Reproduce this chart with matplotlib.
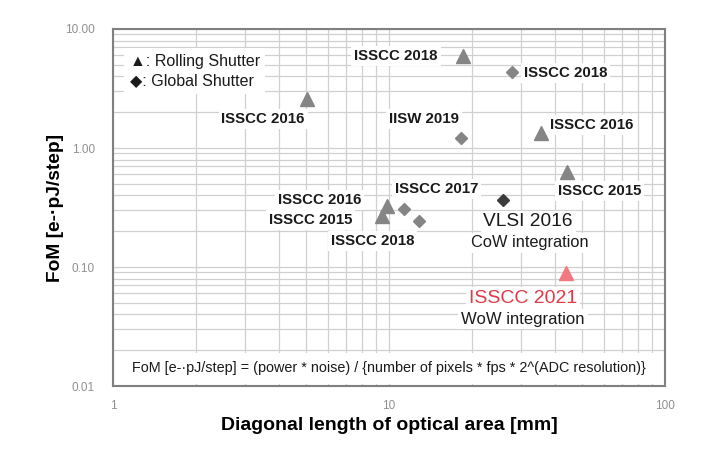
import matplotlib
matplotlib.use("Agg")
import matplotlib.pyplot as plt
from matplotlib.ticker import LogLocator, NullFormatter, FixedLocator, FixedFormatter
import numpy as np

plt.rcParams['font.family'] = ['Liberation Sans', 'DejaVu Sans']

# image sensor FoM survey points
labels = ["ISSCC 2018", "ISSCC 2018", "ISSCC 2016", "IISW 2019", "ISSCC 2016",
          "ISSCC 2015", "VLSI 2016", "ISSCC 2016", "ISSCC 2017", "ISSCC 2015",
          "ISSCC 2018", "ISSCC 2021"]
diag_mm = [18.5, 27.9, 5.05, 18.2, 35.5, 44.2, 25.9, 9.84, 11.3, 9.43, 12.8, 43.8]
fom = [5.93, 4.35, 2.58, 1.21, 1.34, 0.63, 0.366, 0.326, 0.307, 0.27, 0.244, 0.089]
shutter = ["R", "G", "R", "G", "R", "R", "G", "R", "G", "R", "G", "R"]

fig = plt.figure(figsize=(7.12, 4.51), dpi=100)
ax = fig.add_axes([0.1587, 0.1441, 0.7753, 0.7916])
ax.set_xscale("log")
ax.set_yscale("log")
ax.set_xlim(1, 100)
ax.set_ylim(0.01, 10)

ax.grid(True, which="both", color="#d0d0d0", linewidth=0.9)
ax.set_axisbelow(True)
for s in ax.spines.values():
    s.set_color("#808080")
    s.set_linewidth(1.5)

ax.yaxis.set_major_locator(FixedLocator([0.01, 0.1, 1, 10]))
ax.yaxis.set_major_formatter(FixedFormatter(["0.01", "0.10", "1.00", "10.00"]))
ax.yaxis.set_minor_locator(LogLocator(base=10, subs=np.arange(2, 10)))
ax.yaxis.set_minor_formatter(NullFormatter())
ax.xaxis.set_major_locator(FixedLocator([1, 10, 100]))
ax.xaxis.set_major_formatter(FixedFormatter(["1", "10", "100"]))
ax.xaxis.set_minor_locator(LogLocator(base=10, subs=np.arange(2, 10)))
ax.xaxis.set_minor_formatter(NullFormatter())
ax.tick_params(which="both", length=0, colors="#909090", labelsize=8.5)
ax.tick_params(axis="x", pad=10)
ax.tick_params(axis="y", pad=13)

for i in range(len(labels)):
    if i == len(labels) - 1:
        col = "#f07a80"
    elif labels[i] == "VLSI 2016":
        col = "#3c3c3c"
    else:
        col = "#858585"
    if shutter[i] == "R":
        ax.plot(diag_mm[i], fom[i], marker="^", color=col, markersize=9.5, linestyle="none", zorder=5)
    else:
        ax.plot(diag_mm[i], fom[i], marker="D", color=col, markersize=6.5, linestyle="none", zorder=5)

# label placement in pixel offsets from each marker
offs = [(-25, 0, "right"), (12, -1, "left"), (-44, -20, "center"), (-37, 19, "center"),
        (9, 8, "left"), (-9, -19, "left"), None, (-26, 6, "right"), (-9, 20, "left"),
        (-30, -4, "right"), (-46, -20, "center"), None]
box = dict(facecolor="white", edgecolor="none", pad=2)
for i in range(len(labels)):
    if offs[i] is None:
        continue
    dx, dy, ha = offs[i]
    ax.annotate(labels[i], (diag_mm[i], fom[i]), xytext=(dx, dy), textcoords="offset pixels",
                ha=ha, va="center", fontsize=10.8, fontweight="bold", color="#1a1a1a",
                bbox=box, zorder=4)

ax.annotate("VLSI 2016", (diag_mm[6], fom[6]), xytext=(25, -22), textcoords="offset pixels",
            ha="center", va="center", fontsize=13.8, color="#1a1a1a", bbox=box, zorder=4)
ax.annotate("CoW integration", (diag_mm[6], fom[6]), xytext=(27, -43), textcoords="offset pixels",
            ha="center", va="center", fontsize=11.8, color="#1a1a1a", bbox=box, zorder=4)
ax.annotate("ISSCC 2021", (diag_mm[11], fom[11]), xytext=(-43, -25), textcoords="offset pixels",
            ha="center", va="center", fontsize=14, color="#e03a48", bbox=box, zorder=4)
ax.annotate("WoW integration", (diag_mm[11], fom[11]), xytext=(-43, -46), textcoords="offset pixels",
            ha="center", va="center", fontsize=12, color="#1a1a1a", bbox=box, zorder=4)

# legend box
ax.text(0.03, 0.93, "\u25b2: Rolling Shutter\n\u25c6: Global Shutter", transform=ax.transAxes,
        ha="left", va="top", fontsize=11.5, color="#1a1a1a", linespacing=1.35,
        bbox=dict(facecolor="white", edgecolor="none", pad=4), zorder=4)

ax.text(0.5, 0.05, "FoM [e-\u00b7pJ/step] = (power * noise) / {number of pixels * fps * 2^(ADC resolution)}",
        transform=ax.transAxes, ha="center", va="center", fontsize=10.4, color="#1a1a1a",
        bbox=dict(facecolor="white", edgecolor="none", pad=6), zorder=4)

ax.set_ylabel("FoM [e-\u00b7pJ/step]", fontsize=13.8, fontweight="bold", labelpad=1)
ax.set_xlabel("Diagonal length of optical area [mm]", fontsize=14, fontweight="bold", labelpad=4)

fig.savefig("out.png", dpi=100, facecolor="white")
